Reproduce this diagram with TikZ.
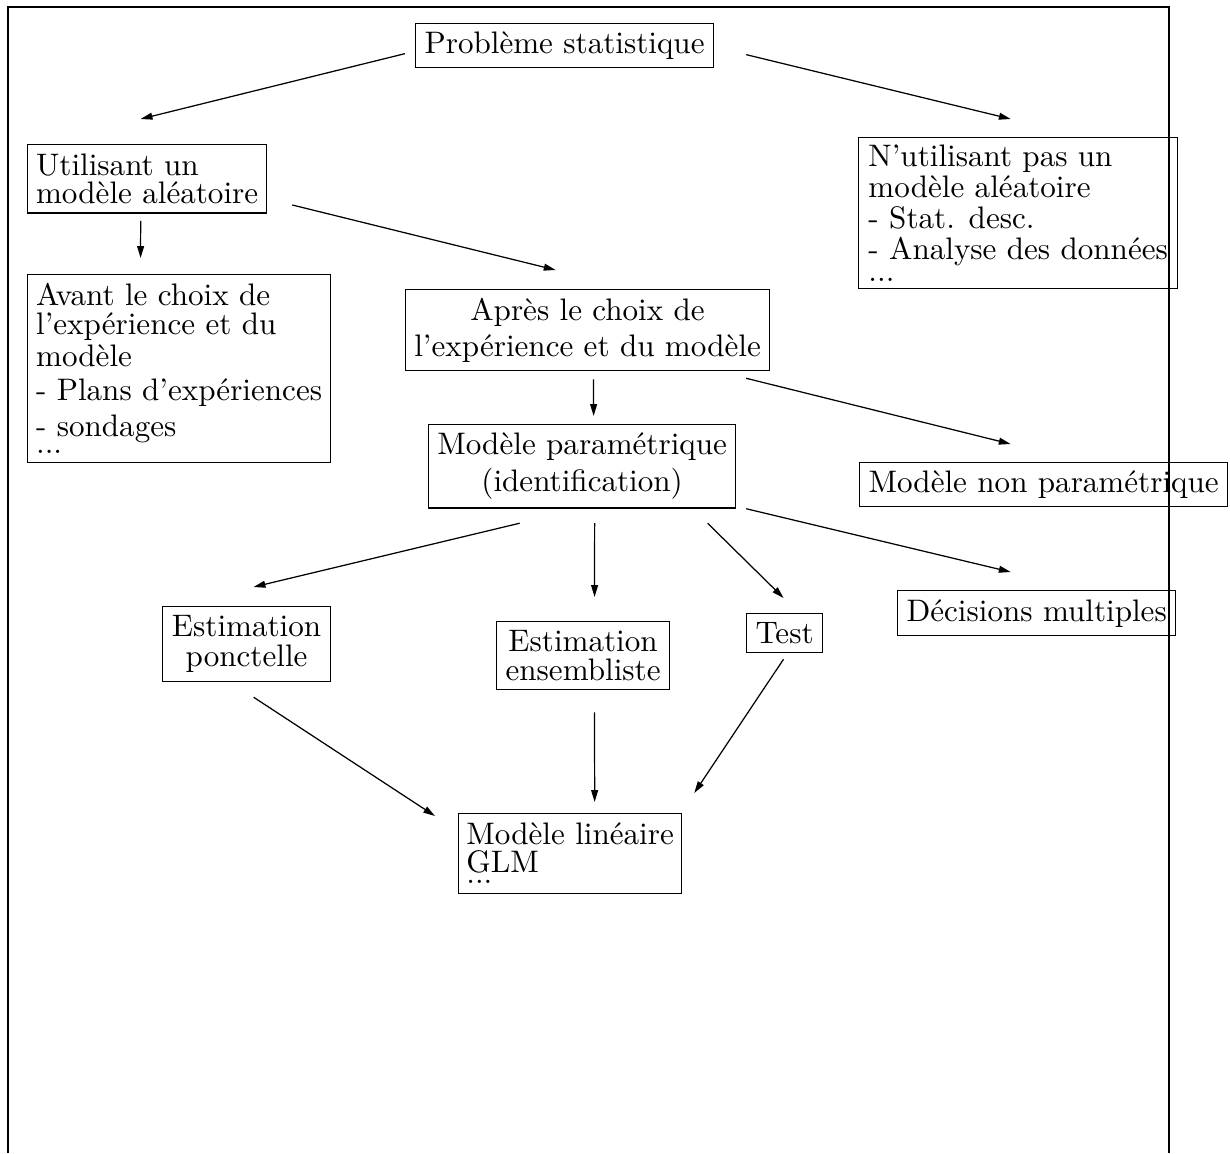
\documentclass[tikz,border=0pt]{standalone}
\usepackage{amsmath}
\usetikzlibrary{arrows.meta}

\begin{document}
\begin{tikzpicture}[x = 0.3215pt, y = -0.3215pt,
    font = \fontsize{10}{10}\selectfont,
    box/.style = {draw, inner sep = 0pt, anchor = north west},
    fleche/.style = {-{Triangle[length = 3.8pt, width = 2.2pt]}}]
    \useasboundingbox (0,0) rectangle (1230,1153);
    \draw (8,1153) -- (8,7) -- (1169,7) -- (1169,1153);

    % boites
    \node[box, minimum width = 95.8pt, minimum height = 14.15pt] (pb) at (415,23) {Problème statistique};
    \node[box, align = left, minimum width = 76.85pt, minimum height = 22pt] (util) at (27,144) {Utilisant un\\[-0.9pt]modèle aléatoire};
    \node[box, align = left, minimum width = 102.6pt, minimum height = 48.55pt] (nonal) at (858,137) {N'utilisant pas un\\modèle aléatoire\\- Stat. desc.\\- Analyse des données\\[-2.8pt]...};
    \node[box, align = left, minimum width = 97.4pt, minimum height = 60.45pt] (avant) at (27,274) {Avant le choix de\\[-0.7pt]l'expérience et du\\[0.3pt]modèle\\[0.9pt]- Plans d'expériences\\[1.6pt]- sondages\\[-4.5pt]...};
    \node[box, align = center, minimum width = 117pt, minimum height = 26.05pt] (apres) at (405,289) {Après le choix de\\[1.6pt]l'expérience et du modèle};
    \node[box, align = center, minimum width = 98.7pt, minimum height = 27pt] (param) at (428,423.5) {Modèle paramétrique\\[1.9pt](identification)};
    \node[box, minimum width = 118.3pt, minimum height = 14.15pt] (nonparam) at (859,462) {Modèle non paramétrique};
    \node[box, minimum width = 89.4pt, minimum height = 14.5pt] (decis) at (897,590) {Décisions multiples};
    \node[box, align = center, minimum width = 54pt, minimum height = 24.1pt] (ponct) at (162,606) {Estimation\\[-0.35pt]ponctelle};
    \node[box, align = center, minimum width = 55.6pt, minimum height = 21.9pt] (ensemb) at (496,621) {Estimation\\[-0.7pt]ensembliste};
    \node[box, minimum width = 24.4pt, minimum height = 12.5pt] (test) at (746,613) {Test};
    \node[box, align = left, minimum width = 71.7pt, minimum height = 25.7pt] (glm) at (458,813) {Modèle linéaire\\[-1pt]GLM\\[-6.46pt]...};

    % fleches
    \draw[fleche] ([shift = {(-10,8)}]pb.west) -- ([shift = {(-6.5,-25)}]util.north);
    \draw[fleche] ([shift = {(32,9)}]pb.east) -- ([shift = {(-7.5,-18)}]nonal.north);
    \draw[fleche] ([shift = {(-6.5,7.3)}]util.south) -- ([shift = {(-38.5,-16)}]avant.north);
    \draw[fleche] ([shift = {(25,-8.7)}]util.south east) -- ([shift = {(-32,-19)}]apres.north);
    \draw[fleche] ([shift = {(6,8)}]apres.south) -- ([shift = {(11.5,-7.5)}]param.north);
    \draw[fleche] ([shift = {(-24,7)}]apres.south east) -- ([shift = {(-33,-18)}]nonparam.north);
    \draw[fleche] ([shift = {(10,0)}]param.south east) -- ([shift = {(-26,-18)}]decis.north);
    \draw[fleche] ([shift = {(-62.5,14.5)}]param.south) -- ([shift = {(7,-19)}]ponct.north);
    \draw[fleche] ([shift = {(12.5,14.5)}]param.south) -- ([shift = {(11.5,-24)}]ensemb.north);
    \draw[fleche] ([shift = {(125.5,14.5)}]param.south) -- ([shift = {(-1,-15)}]test.north);
    \draw[fleche] ([shift = {(7,15)}]ponct.south) -- ([shift = {(-23,3)}]glm.north west);
    \draw[fleche] ([shift = {(11.5,22)}]ensemb.south) -- ([shift = {(24.5,-11)}]glm.north);
    \draw[fleche] ([shift = {(-1,6)}]test.south) -- ([shift = {(12,-20)}]glm.north east);
\end{tikzpicture}
\end{document}
